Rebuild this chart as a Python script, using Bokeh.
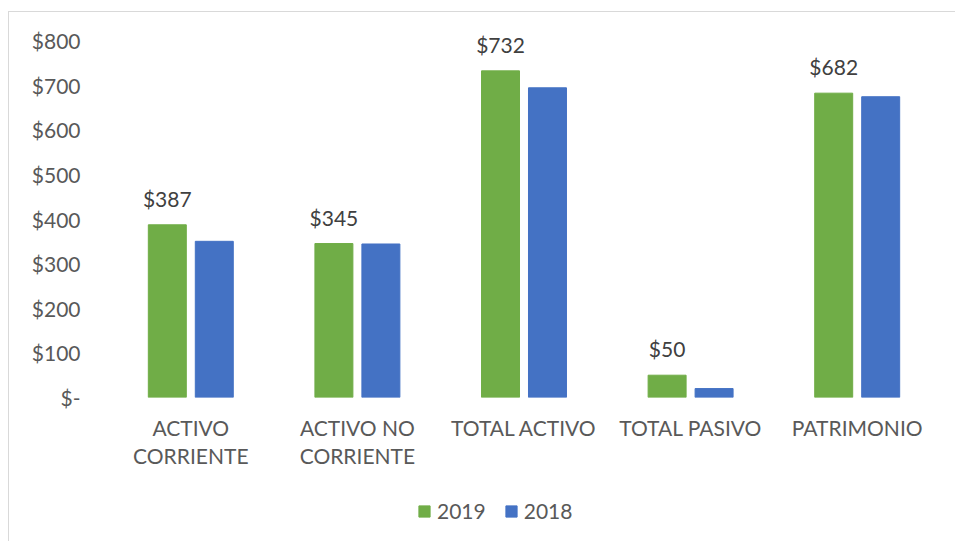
from bokeh.plotting import figure
from bokeh.layouts import column
from bokeh.models import (ColumnDataSource, FactorRange, FixedTicker, Legend, LegendItem, LabelSet,
                          CategoricalAxis, CustomJSTickFormatter, InlineStyleSheet)
from bokeh.core.properties import value
from bokeh.transform import dodge
from bokeh.embed import file_html
from bokeh.resources import INLINE

categories = ["ACTIVO CORRIENTE", "ACTIVO NO CORRIENTE", "TOTAL ACTIVO", "TOTAL PASIVO", "PATRIMONIO"]
label_line1 = ["ACTIVO", "ACTIVO NO", "TOTAL ACTIVO", "TOTAL PASIVO", "PATRIMONIO"]
label_line2 = ["CORRIENTE", "CORRIENTE", "", "", ""]
values_2019 = [387, 345, 732, 50, 682]
values_2018 = [350, 344, 694, 20, 674]
y_ticks = [0, 100, 200, 300, 400, 500, 600, 700, 800]
y_tick_labels = ["$-", "$100", "$200", "$300", "$400", "$500", "$600", "$700", "$800"]

FONT = "Lato"
GREEN = "#70AD47"
BLUE = "#4472C4"

src = ColumnDataSource(dict(
    cat=categories,
    v2019=values_2019,
    v2018=values_2018,
    lbl2019=["$%d" % v for v in values_2019],
))

MAIN_H = 480
FRAME_TOP = 18
Y_SCALE = (397 - 40) / 800.0          # px per unit, $800 gridline at y=40
Y_END = (397 - FRAME_TOP) / Y_SCALE    # leave room above $800 for data labels

p = figure(
    x_range=FactorRange(*categories, range_padding=0),
    y_range=(0, Y_END),
    width=955, height=MAIN_H,
    output_backend="svg", toolbar_location=None,
    min_border_left=107, min_border_right=15, min_border_top=FRAME_TOP, min_border_bottom=MAIN_H - 397,
)
p.outline_line_color = None
p.background_fill_color = "white"
p.border_fill_color = "white"

r1 = p.vbar(x=dodge("cat", -0.141, range=p.x_range), top="v2019", width=0.228, source=src,
            fill_color=GREEN, line_color=GREEN)
r2 = p.vbar(x=dodge("cat", 0.141, range=p.x_range), top="v2018", width=0.228, source=src,
            fill_color=BLUE, line_color=BLUE)

labels = LabelSet(x=dodge("cat", -0.141, range=p.x_range), y="v2019", text="lbl2019", source=src,
                  text_align="center", text_baseline="bottom", y_offset=14,
                  text_font=value(FONT), text_font_size="21px", text_color="#404040")
p.add_layout(labels)

p.xgrid.grid_line_color = None
p.ygrid.ticker = FixedTicker(ticks=[0])
p.ygrid.grid_line_color = "#d9d9d9"
p.ygrid.grid_line_width = 2

p.yaxis.ticker = FixedTicker(ticks=y_ticks)
p.yaxis.major_label_overrides = {t: l for t, l in zip(y_ticks, y_tick_labels)}
p.yaxis.axis_line_color = None
p.yaxis.major_tick_line_color = None
p.yaxis.minor_tick_line_color = None
p.yaxis.major_tick_out = 0
p.yaxis.major_label_standoff = 27
p.yaxis.major_label_text_font = FONT
p.yaxis.major_label_text_font_size = "21px"
p.yaxis.major_label_text_color = "#595959"

def style_x(ax, labs, standoff):
    ax.formatter = CustomJSTickFormatter(
        args=dict(cats=categories, labs=labs),
        code="const i = cats.indexOf(tick); return i >= 0 ? labs[i] : tick;")
    ax.axis_line_color = None
    ax.major_tick_line_color = None
    ax.minor_tick_line_color = None
    ax.major_tick_out = 0
    ax.major_tick_in = 0
    ax.major_label_standoff = standoff
    ax.major_label_text_font = FONT
    ax.major_label_text_font_size = "21px"
    ax.major_label_text_color = "#595959"

style_x(p.xaxis[0], label_line1, 17)
ax2 = CategoricalAxis()
style_x(ax2, label_line2, 0)
p.add_layout(ax2, "below")

# legend strip below the chart
LEG_H = 541 - MAIN_H
pl = figure(
    x_range=p.x_range, y_range=(-1000, -999),
    width=955, height=LEG_H,
    output_backend="svg", toolbar_location=None,
    min_border_left=0, min_border_right=0, min_border_top=0, min_border_bottom=0,
)
pl.axis.visible = False
pl.grid.grid_line_color = None
pl.outline_line_color = None
pl.background_fill_color = "white"
pl.border_fill_color = "white"
l1 = pl.vbar(x="cat", top="v2019", width=0.2, source=src, fill_color=GREEN, line_color=GREEN, visible=False)
l2 = pl.vbar(x="cat", top="v2018", width=0.2, source=src, fill_color=BLUE, line_color=BLUE, visible=False)
legend = Legend(items=[LegendItem(label="2019", renderers=[l1]), LegendItem(label="2018", renderers=[l2])],
                orientation="horizontal", location=(310, 18),
                label_text_font=FONT, label_text_font_size="21px", label_text_color="#595959",
                glyph_width=14, glyph_height=14, spacing=18, label_standoff=6,
                inactive_fill_alpha=0,
                border_line_color=None, background_fill_alpha=0, margin=0, padding=0)
pl.add_layout(legend)

layout = column(p, pl, spacing=0)
layout.stylesheets = [InlineStyleSheet(css=(
    ":host { position: relative; }"
    ":host::after { content: ''; position: absolute; left: 8px; top: 11px; right: 0; bottom: 0;"
    " border-left: 1px solid #d9d9d9; border-top: 1px solid #d9d9d9; pointer-events: none; z-index: 10; }"
))]
open("out.html", "w").write(file_html(layout, INLINE))
